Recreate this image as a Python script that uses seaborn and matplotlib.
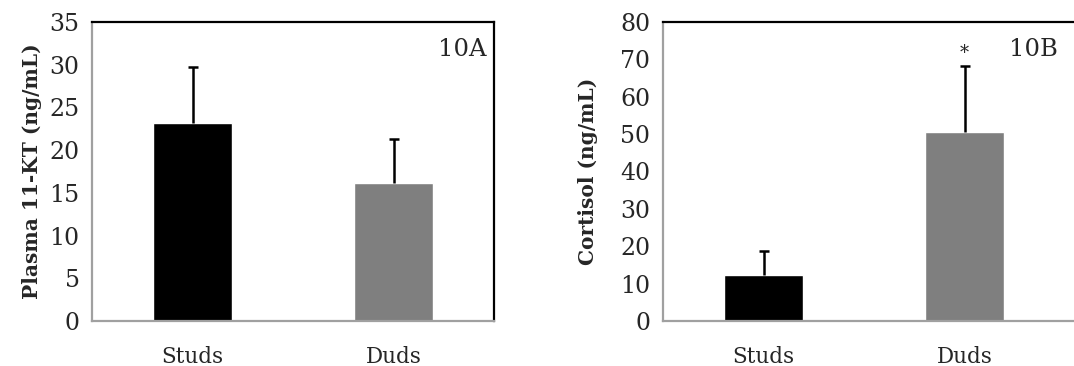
import matplotlib
matplotlib.use("Agg")
import matplotlib.pyplot as plt
import seaborn as sns
import pandas as pd
import numpy as np

groups = ["Studs", "Duds"]
kt_mean = [23.2, 16.2]
kt_err = [6.5, 5.1]
cort_mean = [12.3, 50.5]
cort_err = [6.3, 17.7]
bar_colors = ["#000000", "#7f7f7f"]

sns.set_theme(style="white")
plt.rcParams["font.family"] = ["DejaVu Serif", "Liberation Serif"]

W, H = 1074, 366
fig = plt.figure(figsize=(W / 100, H / 100), dpi=100)

def px(l, t, r, b):
    return [l / W, 1 - b / H, (r - l) / W, (b - t) / H]

axA = fig.add_axes(px(92, 22, 494, 321))
axB = fig.add_axes(px(663, 22, 1081, 321))

def panel(ax, means, errs, ymax, ystep, ylabel, tag, xmax, xticks, labelpad, star=False):
    df = pd.DataFrame({"group": groups, "value": means})
    sns.barplot(data=df, x="group", y="value", hue="group", palette=bar_colors,
                width=0.395, ax=ax, legend=False, saturation=1, errorbar=None)
    eb = ax.errorbar(range(len(groups)), means, yerr=[np.zeros(len(errs)), errs],
                     fmt="none", ecolor="black", elinewidth=1.8, capsize=3.5, capthick=1.8)
    for cl in eb[1]:
        if np.allclose(np.asarray(cl.get_ydata(), float), np.asarray(means, float)):
            cl.set_visible(False)
    ax.set_xlim(-0.5, xmax)
    ax.set_ylim(0, ymax)
    ax.set_yticks(np.arange(0, ymax + 0.1, ystep))
    ax.set_xticks(xticks, minor=True)
    ax.set_xticks(range(len(groups)))
    ax.set_xticklabels(groups)
    ax.tick_params(axis="x", which="major", length=0, labelsize=15.5, pad=18)
    ax.tick_params(axis="x", which="minor", length=6, width=1.2, color="#a0a0a0", direction="out")
    ax.tick_params(axis="y", length=5, width=1.2, color="#a0a0a0", direction="out",
                   labelsize=17, pad=4)
    ax.set_xlabel("")
    ax.set_ylabel(ylabel, fontsize=14.5, fontweight="bold", labelpad=labelpad)
    for s in ["left", "bottom"]:
        ax.spines[s].set_color("#a0a0a0")
        ax.spines[s].set_linewidth(1.6)
    for s in ["top", "right"]:
        ax.spines[s].set_color("black")
        ax.spines[s].set_linewidth(1.6)
    ax.text(1.5 - 0.035, 0.945, tag, transform=ax.get_xaxis_transform(),
            ha="right", va="top", fontsize=17.5)
    if star:
        ax.text(1, means[1] + errs[1] + 1.0, "*", ha="center", va="bottom", fontsize=13)

panel(axA, kt_mean, kt_err, 35, 5, "Plasma 11-KT (ng/mL)", "10A", 1.5, [-0.5, 0.5, 1.5], 5)
panel(axB, cort_mean, cort_err, 80, 10, "Cortisol (ng/mL)", "10B", 1.5 + 16 / 201, [-0.5, 0.5], 16, star=True)
axB.spines["right"].set_visible(False)

fig.savefig("out.png", dpi=100)
